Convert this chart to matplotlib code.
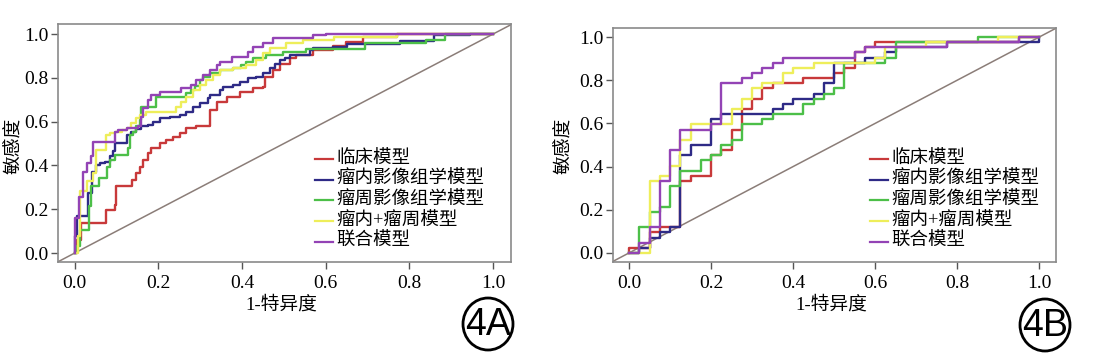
import matplotlib
matplotlib.use("Agg")
import matplotlib.pyplot as plt
from matplotlib.patches import Ellipse

plt.rcParams["font.family"] = ["Liberation Serif", "Noto Sans CJK SC", "DejaVu Serif"]

# ---------------- data ----------------
labels = ["临床模型", "瘤内影像组学模型", "瘤周影像组学模型", "瘤内+瘤周模型", "联合模型"]
colors = ["#c8393a", "#2e2a86", "#4cbf48", "#eeee5a", "#9343b5"]
x_ticks = [0.0, 0.2, 0.4, 0.6, 0.8, 1.0]
tick_labels = ["0.0", "0.2", "0.4", "0.6", "0.8", "1.0"]

# Panel A (training set)
a_red_x = [0, 0.006, 0.016, 0.074, 0.096, 0.098, 0.138, 0.147, 0.155, 0.163, 0.175, 0.183, 0.203, 0.219, 0.235, 0.251, 0.267, 0.291, 0.323, 0.339, 0.363, 0.394, 0.426, 0.45, 0.454, 0.474, 0.49, 0.514, 0.53, 0.57, 0.618, 0.649, 0.689, 0.77, 1.0]
a_red_y = [0, 0.06, 0.137, 0.198, 0.22, 0.304, 0.334, 0.365, 0.395, 0.426, 0.456, 0.479, 0.502, 0.517, 0.532, 0.547, 0.57, 0.581, 0.653, 0.691, 0.714, 0.737, 0.752, 0.757, 0.805, 0.836, 0.863, 0.889, 0.904, 0.927, 0.945, 0.965, 0.988, 1.0, 1.0]

a_blue_x = [0, 0, 0.006, 0.032, 0.042, 0.052, 0.06, 0.072, 0.084, 0.092, 0.096, 0.124, 0.135, 0.147, 0.159, 0.175, 0.187, 0.203, 0.227, 0.251, 0.267, 0.283, 0.299, 0.319, 0.323, 0.347, 0.355, 0.378, 0.394, 0.414, 0.434, 0.45, 0.466, 0.478, 0.49, 0.502, 0.514, 0.562, 0.57, 0.618, 0.65, 0.777, 0.86, 0.945, 1.0]
a_blue_y = [0, 0.076, 0.167, 0.274, 0.372, 0.403, 0.41, 0.418, 0.441, 0.464, 0.502, 0.54, 0.555, 0.565, 0.578, 0.585, 0.6, 0.616, 0.623, 0.631, 0.646, 0.669, 0.684, 0.707, 0.722, 0.745, 0.76, 0.767, 0.783, 0.798, 0.805, 0.821, 0.843, 0.863, 0.881, 0.889, 0.904, 0.927, 0.935, 0.942, 0.955, 0.97, 0.995, 1.0, 1.0]

a_green_x = [0, 0.006, 0.012, 0.034, 0.04, 0.058, 0.078, 0.084, 0.096, 0.127, 0.131, 0.139, 0.147, 0.155, 0.159, 0.195, 0.267, 0.279, 0.287, 0.299, 0.307, 0.323, 0.347, 0.378, 0.398, 0.41, 0.426, 0.458, 0.498, 0.554, 0.694, 0.84, 0.885, 1.0]
a_green_y = [0, 0.03, 0.106, 0.213, 0.304, 0.342, 0.395, 0.426, 0.448, 0.479, 0.54, 0.555, 0.578, 0.608, 0.669, 0.714, 0.729, 0.745, 0.763, 0.79, 0.805, 0.824, 0.836, 0.843, 0.859, 0.874, 0.889, 0.904, 0.919, 0.93, 0.958, 0.975, 1.0, 1.0]

a_yellow_x = [0, 0.008, 0.012, 0.029, 0.044, 0.052, 0.074, 0.084, 0.096, 0.112, 0.124, 0.135, 0.147, 0.155, 0.171, 0.243, 0.255, 0.267, 0.283, 0.299, 0.315, 0.331, 0.347, 0.378, 0.41, 0.434, 0.45, 0.466, 0.506, 0.546, 0.62, 0.77, 1.0]
a_yellow_y = [0, 0.076, 0.281, 0.327, 0.365, 0.471, 0.54, 0.547, 0.555, 0.562, 0.57, 0.593, 0.616, 0.631, 0.646, 0.669, 0.691, 0.714, 0.745, 0.767, 0.79, 0.813, 0.836, 0.843, 0.859, 0.881, 0.912, 0.935, 0.957, 0.973, 0.985, 1.0, 1.0]

a_purple_x = [0, 0, 0.0096, 0.02, 0.029, 0.04, 0.044, 0.096, 0.104, 0.124, 0.151, 0.159, 0.163, 0.175, 0.183, 0.203, 0.255, 0.279, 0.291, 0.307, 0.323, 0.339, 0.347, 0.375, 0.414, 0.426, 0.45, 0.474, 0.57, 0.6, 1.0]
a_purple_y = [0, 0.16, 0.258, 0.372, 0.41, 0.441, 0.509, 0.555, 0.562, 0.57, 0.578, 0.623, 0.661, 0.699, 0.722, 0.737, 0.752, 0.767, 0.79, 0.813, 0.836, 0.859, 0.874, 0.897, 0.919, 0.942, 0.957, 0.98, 0.995, 1.0, 1.0]

# Panel B (validation set)
b_red_x = [0, 0, 0.05, 0.075, 0.125, 0.15, 0.2, 0.2, 0.225, 0.25, 0.275, 0.3, 0.325, 0.35, 0.425, 0.5, 0.525, 0.55, 0.575, 0.6, 0.95, 1.0]
b_red_y = [0, 0.024, 0.095, 0.119, 0.333, 0.357, 0.429, 0.452, 0.476, 0.571, 0.667, 0.714, 0.762, 0.786, 0.81, 0.833, 0.857, 0.929, 0.952, 0.976, 1.0, 1.0]

b_blue_x = [0, 0.025, 0.05, 0.075, 0.1, 0.125, 0.15, 0.2, 0.225, 0.35, 0.375, 0.4, 0.45, 0.475, 0.5, 0.575, 0.625, 0.65, 0.775, 1.0]
b_blue_y = [0, 0.024, 0.071, 0.095, 0.119, 0.452, 0.5, 0.619, 0.643, 0.667, 0.69, 0.714, 0.738, 0.786, 0.881, 0.905, 0.929, 0.952, 0.976, 1.0]

b_green_x = [0, 0.025, 0.05, 0.075, 0.1, 0.125, 0.175, 0.2, 0.225, 0.25, 0.275, 0.325, 0.35, 0.425, 0.45, 0.475, 0.5, 0.525, 0.625, 0.65, 0.85, 1.0]
b_green_y = [0, 0.119, 0.19, 0.214, 0.31, 0.381, 0.429, 0.452, 0.5, 0.524, 0.595, 0.619, 0.643, 0.69, 0.714, 0.738, 0.762, 0.881, 0.905, 0.976, 1.0, 1.0]

b_yellow_x = [0, 0.05, 0.075, 0.1, 0.125, 0.15, 0.25, 0.275, 0.3, 0.325, 0.375, 0.4, 0.45, 0.6, 0.625, 0.725, 0.9, 1.0]
b_yellow_y = [0, 0.333, 0.357, 0.405, 0.524, 0.595, 0.667, 0.714, 0.762, 0.786, 0.833, 0.857, 0.881, 0.905, 0.952, 0.976, 1.0, 1.0]

b_purple_x = [0, 0.025, 0.05, 0.075, 0.1, 0.125, 0.2, 0.225, 0.275, 0.3, 0.325, 0.35, 0.375, 0.55, 0.575, 0.775, 0.95, 1.0]
b_purple_y = [0, 0.048, 0.119, 0.333, 0.476, 0.571, 0.595, 0.786, 0.81, 0.833, 0.857, 0.881, 0.905, 0.929, 0.952, 0.976, 1.0, 1.0]

panel_a = [(a_red_x, a_red_y), (a_blue_x, a_blue_y), (a_green_x, a_green_y),
           (a_yellow_x, a_yellow_y), (a_purple_x, a_purple_y)]
panel_b = [(b_red_x, b_red_y), (b_blue_x, b_blue_y), (b_green_x, b_green_y),
           (b_yellow_x, b_yellow_y), (b_purple_x, b_purple_y)]

# ---------------- figure ----------------
W, H = 1102, 353
fig = plt.figure(figsize=(W / 100, H / 100), dpi=100)
cjk = ["Noto Sans CJK SC", "DejaVu Sans"]
mixed = ["Liberation Serif", "Noto Sans CJK SC", "DejaVu Sans"]

def px_rect(l, t, r, b):
    return [l / W, 1 - b / H, (r - l) / W, (b - t) / H]

specs = [
    dict(rect=px_rect(58, 24, 511, 262), xlim=(-0.040, 1.043), ylim=(-0.041, 1.046),
         data=panel_a, xlab=(281, 305), ylab=(14, 146), circ=(488, 324), tag="4A"),
    dict(rect=px_rect(613, 28, 1056, 262), xlim=(-0.039, 1.041), ylim=(-0.042, 1.042),
         data=panel_b, xlab=(831, 305), ylab=(564, 146), circ=(1045, 325), tag="4B"),
]

frame_col = "#8a8a8a"
for sp in specs:
    ax = fig.add_axes(sp["rect"])
    ax.set_xlim(*sp["xlim"])
    ax.set_ylim(*sp["ylim"])
    ax.axline((0, 0), (1, 1), color="#8b7d78", lw=1.1, zorder=1)
    for (xs, ys), c in zip(sp["data"], colors):
        ax.plot(xs, ys, drawstyle="steps-post", color=c, lw=1.7, zorder=2)
    for s in ax.spines.values():
        s.set_color(frame_col)
        s.set_linewidth(1.2)
    ax.set_xticks(x_ticks)
    ax.set_yticks(x_ticks)
    ax.set_xticklabels(tick_labels)
    ax.set_yticklabels(tick_labels)
    ax.tick_params(axis="both", direction="out", length=5, width=1, color="#555555",
                   labelsize=14)
    ax.tick_params(axis="x", pad=4)
    ax.tick_params(axis="y", pad=2)

    # legend drawn manually (compact rows as in the reference)
    l, b, w, h = sp["rect"]
    x0 = l * W + 257
    ytop = 159
    for i, (lab, c) in enumerate(zip(labels, colors)):
        yy = ytop + i * 20.7
        fig.add_artist(plt.Line2D([(x0) / W, (x0 + 18) / W], [1 - yy / H, 1 - yy / H],
                                  color=c, lw=1.6, transform=fig.transFigure))
        fig.text((x0 + 21) / W, 1 - yy / H, lab, fontfamily=mixed, fontsize=13.3,
                 ha="left", va="center")

    fig.text(sp["xlab"][0] / W, 1 - sp["xlab"][1] / H, "1-特异度", fontfamily=mixed,
             fontsize=13.5, ha="center", va="center")
    fig.text(sp["ylab"][0] / W, 1 - sp["ylab"][1] / H, "敏感度", fontfamily=cjk,
             fontsize=13.5, ha="center", va="center", rotation=90)
    cx, cy = sp["circ"]
    fig.add_artist(Ellipse((cx / W, 1 - cy / H), 50 / W, 52 / H, transform=fig.transFigure,
                           fill=False, edgecolor="black", lw=2))
    fig.text(cx / W, 1 - (cy + 1) / H, sp["tag"], fontfamily=["Liberation Sans"],
             fontsize=27, ha="center", va="center")

fig.savefig("out.png", dpi=100)
